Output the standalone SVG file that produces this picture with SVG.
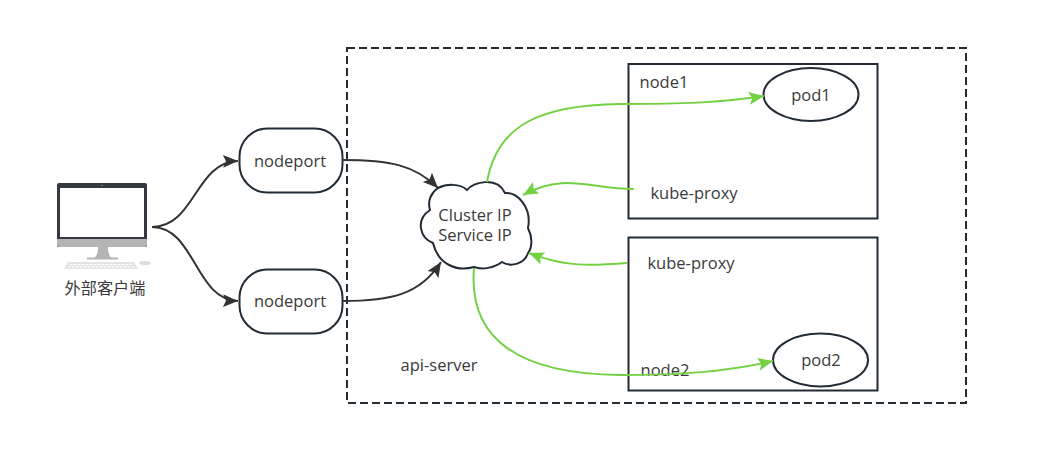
<svg xmlns="http://www.w3.org/2000/svg" width="1056" height="450" viewBox="0 0 1056 450">
<style>
text{font-family:"Open Sans","Noto Sans","Noto Sans CJK SC",sans-serif;font-size:16.500px;fill:#3a3a3a;text-anchor:middle}
.shape{fill:#fff;stroke:#232c35;stroke-width:2}
.dark{fill:none;stroke:#333;stroke-width:2}
.green{fill:none;stroke:#74d144;stroke-width:2}
</style>
<defs>
<marker id="ah-dark" markerUnits="userSpaceOnUse" markerWidth="18" markerHeight="14" refX="15" refY="6.500" orient="auto"><path d="M0 0L15 6.500L0 13L3 6.500Z" fill="#333"/></marker>
<marker id="ah-green" markerUnits="userSpaceOnUse" markerWidth="18" markerHeight="14" refX="15" refY="6.500" orient="auto"><path d="M0 0L15 6.500L0 13L3 6.500Z" fill="#74d144"/></marker>
</defs>
<rect id="cluster" x="347" y="48" width="619" height="355" fill="none" stroke="#232c35" stroke-width="2" stroke-dasharray="8 4"/>
<g id="node1"><rect class="shape" x="628.500" y="64" width="249" height="154.500"/><text x="664" y="88">node1</text></g>
<g id="node2"><rect class="shape" x="628.500" y="237.500" width="249" height="153"/><text x="665" y="376">node2</text></g>
<g id="client">
<rect x="57" y="183" width="90" height="64" rx="2" fill="#34383f"/>
<rect x="60" y="188" width="84" height="49" fill="#fff"/>
<circle cx="102" cy="185.500" r="0.800" fill="#9a9a9a"/>
<path d="M57 239H147V244Q147 247 144 247H60Q57 247 57 244Z" fill="#b5b5b5"/>
<path d="M98 247H108Q108 256 112 258H94Q98 256 98 247Z" fill="#b5b5b5"/>
<rect x="87" y="257.500" width="31" height="2" fill="#b5b5b5"/>
<path d="M68 262H134L138 269H64Z" fill="#e3e3e3"/>
<path d="M70 264.500H132M68 267H134" stroke="#fff" stroke-width="1" stroke-dasharray="3 1" fill="none"/>
<ellipse cx="145" cy="263" rx="6" ry="2" fill="#dcdcdc"/>
<text x="105" y="294" style="font-size:16.200px">外部客户端</text>
</g>
<g id="nodeport-a"><rect class="shape" x="239.500" y="128.500" width="103" height="64" rx="28" ry="28"/><text x="290" y="167">nodeport</text></g>
<g id="nodeport-b"><rect class="shape" x="239.500" y="269.500" width="103" height="64" rx="28" ry="28"/><text x="290" y="307">nodeport</text></g>
<g id="service">
<path class="shape" d="M438 188C446 184 460 183 467 190C473 182 497 176 505 193C518 192 532 208 528 228C533 238 532 248 528 253C524 265 510 267 502 262C494 268 482 270 474 267C456 272 438 264 433 243C420 238 415 220 430 210C427 200 432 192 438 188Z"/>
<text><tspan x="475" y="221">Cluster IP</tspan><tspan x="475" y="241">Service IP</tspan></text>
</g>
<g id="pod1"><ellipse class="shape" cx="811" cy="94.500" rx="47.500" ry="26.500"/><text x="811" y="101">pod1</text></g>
<g id="pod2"><ellipse class="shape" cx="820.500" cy="360" rx="47.500" ry="26.500"/><text x="821" y="366">pod2</text></g>
<g id="labels">
<text x="694" y="199">kube-proxy</text>
<text x="691" y="269">kube-proxy</text>
<text x="439" y="371">api-server</text>
</g>
<g id="connectors">
<path class="dark" marker-end="url(#ah-dark)" d="M152 227C195 227 195 162 238 161"/>
<path class="dark" marker-end="url(#ah-dark)" d="M152 227C195 227 195 300 238 301"/>
<path class="dark" marker-end="url(#ah-dark)" d="M342 160C390 160 415 165 438 188"/>
<path class="dark" marker-end="url(#ah-dark)" d="M342 301C390 301 420 295 441 262"/>
<path class="green" marker-end="url(#ah-green)" d="M487 182C497 125 540 105 620 104C680 104 720 103 764 96"/>
<path class="green" marker-end="url(#ah-green)" d="M634 189C590 189 565 172 523 195"/>
<path class="green" marker-end="url(#ah-green)" d="M627 263C590 266 565 267 529 253"/>
<path class="green" marker-end="url(#ah-green)" d="M474 268C468 340 520 374 620 375C680 375 725 372 773 361"/>
</g>
</svg>
